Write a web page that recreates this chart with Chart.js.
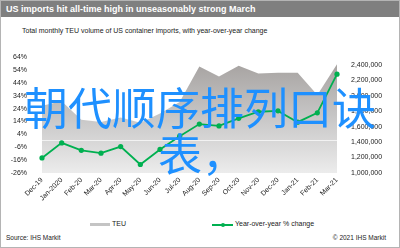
<!DOCTYPE html>
<html>
<head>
<meta charset="utf-8">
<script src="https://cdn.jsdelivr.net/npm/chart.js@4.4.0/dist/chart.umd.min.js"></script>
<style>
  body { margin: 0; background: #fff; }
  #frame { position: relative; width: 398px; height: 246px; border: 1px solid #b4b4b4; overflow: hidden; font-family: "Liberation Sans", Arial, sans-serif; }
  #title { position: absolute; left: 0; top: 0; width: 398px; height: 16px; background: #7f7f7f; color: #fff; font-weight: bold; font-size: 9px; line-height: 16px; padding-left: 5px; box-sizing: border-box; }
  #subtitle { position: absolute; left: 21px; top: 26px; font-size: 7px; color: #222; }
  #chartBox { position: absolute; left: -1px; top: 37px; width: 400px; height: 176px; }
  .leg { position: absolute; top: 218px; font-size: 7px; color: #222; line-height: 10px; }
  .sw { position: absolute; top: 222px; height: 3px; }
  #source { position: absolute; left: 5px; top: 233px; font-size: 6.5px; color: #222; }
  #copy { position: absolute; right: 13px; top: 233px; font-size: 6.5px; color: #222; }
  .over { position: absolute; white-space: nowrap; font-family: "Noto Sans CJK SC", sans-serif; font-size: 44px; line-height: 46px; color: #1e90ff; }
</style>
</head>
<body>
<div id="frame">
  <div id="title">US imports hit all-time high in unseasonably strong March</div>
  <div id="subtitle">Total monthly TEU volume of US container imports, with year-over-year change</div>
  <div id="chartBox"><canvas id="teuChart"></canvas></div>
  <div class="sw" style="left:89px; width:20px; background:#c4c4c4;"></div>
  <div class="leg" style="left:111px;">TEU</div>
  <div class="sw" style="left:211px; width:21px; top:223px; height:2px; background:#00b050;"></div>
  <div class="sw" style="left:220px; width:4px; top:222px; height:4px; border-radius:2px; background:#00b050;"></div>
  <div class="leg" style="left:234px;">Year-over-year % change</div>
  <div id="source">Source: IHS Markit</div>
  <div id="copy">© 2021 IHS Markit</div>
  <div class="over" style="left:23px; top:82px;">朝代顺序排列口诀</div>
  <div class="over" style="left:157px; top:128px;">表，</div>
</div>

<script>
// months on the x axis
var months = ["Dec-19", "Jan-2020", "Feb-20", "Mar-20", "Apr-20", "May-20", "Jun-20", "Jul-20",
              "Aug-20", "Sep-20", "Oct-20", "Nov-20", "Dec-20", "Jan-21", "Feb-21", "Mar-21"];

// monthly TEU volume (right axis)
var teu = [1870000, 1930000, 1690000, 1660000, 1720000, 1650000, 1770000, 1920000,
           2380000, 2250000, 2390000, 2290000, 2300000, 2300000, 2010000, 2410000];

// year-over-year % change (left axis)
var yoyChange = [-14.3, -2.6, -8.4, -10.6, -5.5, -19.4, -7.7, 2.6,
                 12.0, 10.6, 16.5, 21.6, 22.3, 13.5, 20.8, 50.8];

// axis ticks
var pctTicks = [-26, -16, -6, 4, 14, 24, 34, 44, 54, 64];
var teuTicks = [1000000, 1200000, 1400000, 1600000, 1800000, 2000000, 2200000, 2400000];
var teuMax = 2500000;

var tickFont = { family: "'Liberation Sans', Arial, sans-serif", size: 7 };
var tickColor = '#222';

// thin light line at 0% across the grey area
var zeroLine = {
  id: 'zeroLine',
  afterDatasetDraw: function(chart, args) {
    if ( args.index != 1 ) return;
    var area = chart.chartArea;
    var y = chart.scales.y.getPixelForValue(0);
    var ctx = chart.ctx;
    ctx.save();
    ctx.strokeStyle = 'rgba(245,245,245,0.9)';
    ctx.lineWidth = 1;
    ctx.beginPath();
    ctx.moveTo(area.left, Math.round(y) + 0.5);
    ctx.lineTo(area.right, Math.round(y) + 0.5);
    ctx.stroke();
    ctx.restore();
  }
};

function areaFill(context) {
  var chart = context.chart;
  var area = chart.chartArea;
  if ( !area ) return '#c8c8c8';
  var g = chart.ctx.createLinearGradient(0, area.top, 0, area.bottom);
  g.addColorStop(0, '#a39f9d');
  g.addColorStop(0.5, '#c6c5c5');
  g.addColorStop(1, '#ececec');
  return g;
}

function setTicks(values) {
  return function(scale) {
    scale.ticks = values.map(function(v) { return { value: v }; });
  };
}

const ctx = document.getElementById('teuChart');
const teuChart = new Chart(ctx, {
  type: 'line',
  data: {
    labels: months,
    datasets: [
      {
        label: 'Year-over-year % change',
        data: yoyChange,
        yAxisID: 'y',
        borderColor: '#00b050',
        borderWidth: 1.8,
        pointRadius: 2.6,
        pointBackgroundColor: '#00b050',
        pointBorderWidth: 0,
        tension: 0,
      },
      {
        label: 'TEU',
        data: teu,
        yAxisID: 'y1',
        fill: 'start',
        backgroundColor: areaFill,
        borderWidth: 0,
        pointRadius: 0,
        tension: 0,
      }
    ]
  },
  plugins: [zeroLine],
  options: {
    responsive: true,
    maintainAspectRatio: false,
    animation: false,
    layout: { padding: { top: 11, bottom: 0, left: 0, right: 0 } },
    plugins: {
      legend: { display: false },
      tooltip: { enabled: false },
    },
    scales: {
      x: {
        offset: false,
        grid: { display: false, drawTicks: false },
        border: { display: false },
        ticks: { font: tickFont, color: tickColor, minRotation: 45, maxRotation: 45, autoSkip: false, padding: 3 },
        afterFit: function(scale) { scale.height = 41; }
      },
      y: {
        position: 'left',
        min: pctTicks[0],
        max: pctTicks[pctTicks.length - 1],
        grid: { display: false, drawTicks: false },
        border: { display: false },
        afterBuildTicks: setTicks(pctTicks),
        ticks: {
          font: tickFont,
          color: tickColor,
          padding: 15,
          callback: function(v) { return v + '%'; }
        },
        afterFit: function(scale) { scale.width = 42; }
      },
      y1: {
        position: 'right',
        min: teuTicks[0],
        max: teuMax,
        grid: { display: false, drawTicks: false },
        border: { display: false },
        afterBuildTicks: setTicks(teuTicks),
        ticks: {
          font: tickFont,
          color: tickColor,
          padding: 14,
          callback: function(v) { return v.toLocaleString('en-US'); }
        },
        afterFit: function(scale) { scale.width = 63; }
      }
    }
  }
});
</script>
</body>
</html>
